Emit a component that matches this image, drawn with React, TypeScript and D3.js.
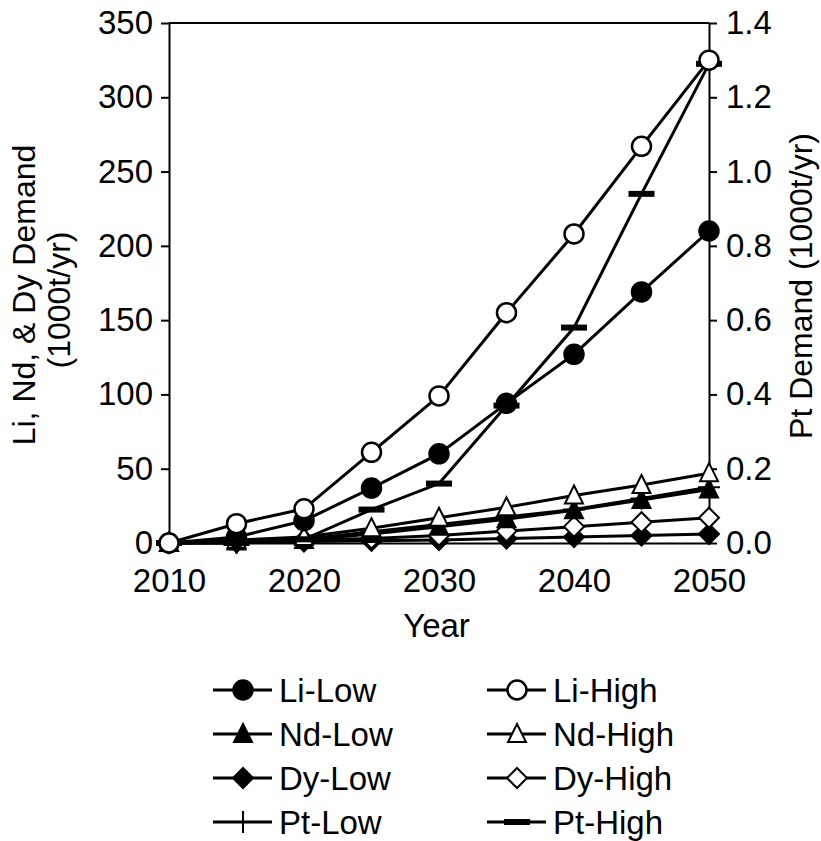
import * as d3 from "d3";
import { useEffect, useRef } from "react";

// ---- data ----
const years = [2010, 2015, 2020, 2025, 2030, 2035, 2040, 2045, 2050];
const liLow = [0, 4, 15, 37, 60, 94, 127, 169, 210];
const liHigh = [0, 13, 23, 61, 99, 155, 208, 267, 325];
const ndLow = [0, 1, 2, 6, 11, 16, 22, 29, 36];
const ndHigh = [0, 2, 4, 10, 17, 24, 32, 39, 47];
const dyLow = [0, 0.5, 1, 1.5, 2, 3, 4, 5, 6];
const dyHigh = [0, 1, 2, 3, 5, 8, 11, 14, 17];
// Pt on right axis (1000t/yr)
const ptLow = [0, 0, 0.01, 0.03, 0.05, 0.07, 0.09, 0.12, 0.15];
const ptHigh = [0, 0, 0.01, 0.09, 0.16, 0.37, 0.58, 0.94, 1.29];

const leftTicks = [0, 50, 100, 150, 200, 250, 300, 350];
const rightTicks = [0, 0.2, 0.4, 0.6, 0.8, 1.0, 1.2, 1.4];
const xTicks = [2010, 2020, 2030, 2040, 2050];

type Marker = "circleFill" | "circleOpen" | "triFill" | "triOpen" | "diaFill" | "diaOpen" | "plus" | "dash";

const series: { name: string; values: number[]; axis: "left" | "right"; marker: Marker }[] = [
  { name: "Pt-Low", values: ptLow, axis: "right", marker: "plus" },
  { name: "Dy-Low", values: dyLow, axis: "left", marker: "diaFill" },
  { name: "Dy-High", values: dyHigh, axis: "left", marker: "diaOpen" },
  { name: "Nd-Low", values: ndLow, axis: "left", marker: "triFill" },
  { name: "Nd-High", values: ndHigh, axis: "left", marker: "triOpen" },
  { name: "Pt-High", values: ptHigh, axis: "right", marker: "dash" },
  { name: "Li-Low", values: liLow, axis: "left", marker: "circleFill" },
  { name: "Li-High", values: liHigh, axis: "left", marker: "circleOpen" },
];

const legendOrder = ["Li-Low", "Li-High", "Nd-Low", "Nd-High", "Dy-Low", "Dy-High", "Pt-Low", "Pt-High"];

const FONT = "'Liberation Sans', Arial, sans-serif";

function drawMarker(g: d3.Selection<SVGGElement, unknown, null, undefined>, m: Marker, x: number, y: number) {
  const s = 9;
  if (m === "circleFill" || m === "circleOpen") {
    g.append("circle").attr("cx", x).attr("cy", y).attr("r", s + 0.5)
      .attr("fill", m === "circleFill" ? "#000" : "#fff").attr("stroke", "#000").attr("stroke-width", 2.5);
  } else if (m === "triFill" || m === "triOpen") {
    g.append("path")
      .attr("d", `M${x},${y - s - 1}L${x + s},${y + s - 1}L${x - s},${y + s - 1}Z`)
      .attr("fill", m === "triFill" ? "#000" : "#fff").attr("stroke", "#000").attr("stroke-width", 2);
  } else if (m === "diaFill" || m === "diaOpen") {
    g.append("path")
      .attr("d", `M${x},${y - s - 1}L${x + s + 1},${y}L${x},${y + s + 1}L${x - s - 1},${y}Z`)
      .attr("fill", m === "diaFill" ? "#000" : "#fff").attr("stroke", "#000").attr("stroke-width", 2);
  } else if (m === "plus") {
    g.append("path")
      .attr("d", `M${x - s - 2},${y}H${x + s + 2}M${x},${y - s - 2}V${y + s + 2}`)
      .attr("stroke", "#000").attr("stroke-width", 2);
  } else {
    g.append("rect").attr("x", x - 13).attr("y", y - 3).attr("width", 26).attr("height", 6).attr("fill", "#000");
  }
}

export default function App() {
  const ref = useRef<SVGSVGElement>(null);

  useEffect(() => {
    const width = 821;
    const height = 841;
    const margin = { top: 23, left: 169, right: 112, bottom: 298 };
    const innerW = width - margin.left - margin.right;
    const innerH = height - margin.top - margin.bottom;

    const svg = d3.select(ref.current);
    svg.selectAll("*").remove();
    svg.attr("viewBox", `0 0 ${width} ${height}`);

    const g = svg.append("g").attr("transform", `translate(${margin.left},${margin.top})`);

    const x = d3.scaleLinear().domain([2010, 2050]).range([0, innerW]);
    const yL = d3.scaleLinear().domain([0, 350]).range([innerH, 0]);
    const yR = d3.scaleLinear().domain([0, 1.4]).range([innerH, 0]);

    // ---- axes ----
    const left = g.append("g").call(d3.axisLeft(yL).tickValues(leftTicks).tickSize(8).tickSizeOuter(0).tickPadding(8));
    const right = g.append("g").attr("transform", `translate(${innerW},0)`)
      .call(d3.axisRight(yR).tickValues(rightTicks).tickSize(8).tickSizeOuter(0).tickPadding(9)
        .tickFormat(d3.format(".1f")));
    const bottom = g.append("g").attr("transform", `translate(0,${innerH})`)
      .call(d3.axisBottom(x).tickValues(xTicks).tickSize(0).tickPadding(26).tickFormat(d3.format("d")));
    [left, right, bottom].forEach((a) => {
      a.selectAll("path").attr("stroke", "#000").attr("stroke-width", 2);
      a.selectAll("line").attr("stroke", "#000").attr("stroke-width", 2);
      a.selectAll("text").attr("font-family", FONT).attr("font-size", 33).attr("fill", "#000");
    });
    // top border
    g.append("line").attr("x1", 0).attr("x2", innerW).attr("y1", 0).attr("y2", 0)
      .attr("stroke", "#000").attr("stroke-width", 2);

    // ---- axis titles ----
    svg.append("text").attr("transform", `translate(${width / 2 + 26},${margin.top + innerH + 94})`)
      .attr("text-anchor", "middle").attr("font-family", FONT).attr("font-size", 33).text("Year");
    svg.append("text").attr("transform", `translate(35,295) rotate(-90)`)
      .attr("text-anchor", "middle").attr("font-family", FONT).attr("font-size", 32).text("Li, Nd, & Dy Demand");
    svg.append("text").attr("transform", `translate(70,300) rotate(-90)`)
      .attr("text-anchor", "middle").attr("font-family", FONT).attr("font-size", 32).text("(1000t/yr)");
    svg.append("text").attr("transform", `translate(812,286) rotate(-90)`)
      .attr("text-anchor", "middle").attr("font-family", FONT).attr("font-size", 32).text("Pt Demand (1000t/yr)");

    // ---- lines & markers ----
    series.forEach((s) => {
      const yS = s.axis === "left" ? yL : yR;
      const line = d3.line<number>().x((_, i) => x(years[i])).y((d) => yS(d));
      g.append("path").attr("d", line(s.values)).attr("fill", "none")
        .attr("stroke", "#000").attr("stroke-width", 3);
    });
    series.forEach((s) => {
      const yS = s.axis === "left" ? yL : yR;
      const mg = g.append("g");
      s.values.forEach((v, i) => drawMarker(mg, s.marker, x(years[i]), yS(v)));
    });

    // ---- legend ----
    const lg = svg.append("g");
    legendOrder.forEach((name, i) => {
      const s = series.find((d) => d.name === name)!;
      const col = i % 2;
      const row = Math.floor(i / 2);
      const lx = col === 0 ? 213 : 487;
      const ly = 690 + row * 44;
      lg.append("line").attr("x1", lx).attr("x2", lx + 59).attr("y1", ly).attr("y2", ly)
        .attr("stroke", "#000").attr("stroke-width", 3);
      drawMarker(lg, s.marker, lx + 30, ly);
      lg.append("text").attr("x", lx + 66).attr("y", ly + 12).attr("font-family", FONT)
        .attr("font-size", 33).text(name);
    });
  }, []);

  return (
    <svg ref={ref} width={821} height={841}
      style={{ position: "absolute", left: 0, top: 0, background: "#fff" }} />
  );
}
